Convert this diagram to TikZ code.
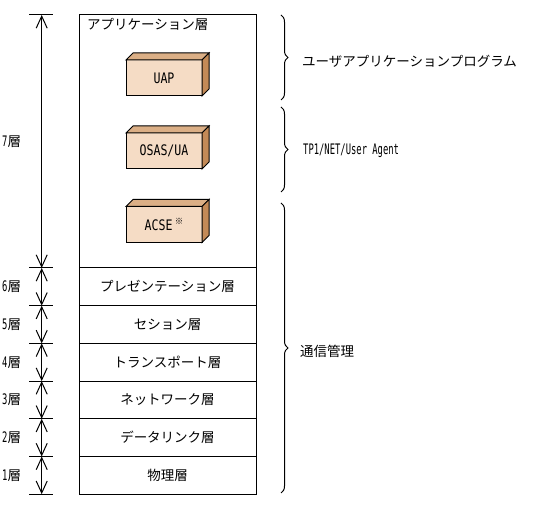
\documentclass[tikz,border=0pt]{standalone}
\usepackage{fontspec}
\setmainfont{Noto Sans CJK JP}
\newfontfamily\hankaku[FakeStretch=0.61]{DejaVu Sans Mono}
\newfontfamily\blockfont[FakeStretch=0.8]{DejaVu Sans Mono}
\usetikzlibrary{arrows.meta,positioning,calc,decorations.pathreplacing}
\definecolor{BoxFront}{HTML}{F5DCC5}
\definecolor{BoxTop}{HTML}{DBAF86}
\definecolor{BoxSide}{HTML}{C38A57}
\tikzset{
  layer/.style={draw,line width=1pt,minimum width=177pt,minimum height=37.7pt,outer sep=0pt,inner sep=0pt,font=\fontsize{13.5}{15}\selectfont},
  applayer/.style={layer,minimum height=253pt},
  block/.style={draw,fill=BoxFront,line width=1pt,minimum width=76pt,minimum height=36pt,outer sep=0pt,font=\blockfont\fontsize{14.5}{16}\selectfont},
  blockface/.style={draw,line width=1pt,line join=miter},
  dimline/.style={{Straight Barb[length=12pt,width=11pt]}-{Straight Barb[length=12pt,width=11pt]},line width=1pt},
  tickline/.style={line width=1pt},
  dimlabel/.style={anchor=west,inner sep=0pt,font=\fontsize{13.5}{15}\selectfont},
  bracedeco/.style={decorate,decoration={brace,amplitude=7pt},line width=1pt},
  bracelabel/.style={anchor=west,inner sep=0pt,font=\fontsize{13.5}{15}\selectfont}
}
\newcommand{\han}[1]{{\hankaku\fontsize{14.5}{16}\selectfont #1}}
\begin{document}
\begin{tikzpicture}[x=1pt,y=1pt]
  \useasboundingbox (0,0) rectangle (542,510);
  % layer stack
  \node[applayer] (app) at (167.5,368.5) {};
  \node[anchor=north west,inner sep=0pt,font=\fontsize{13.5}{15}\selectfont] (applabel) at ([xshift=8pt,yshift=-3pt]app.north west) {アプリケーション層};
  \node[layer,below=0pt of app] (pres) {プレゼンテーション層};
  \node[layer,below=0pt of pres] (sess) {セション層};
  \node[layer,below=0pt of sess] (trans) {トランスポート層};
  \node[layer,below=0pt of trans] (net) {ネットワーク層};
  \node[layer,below=0pt of net] (link) {データリンク層};
  \node[layer,below=0pt of link] (phys) {物理層};
  % 3D blocks
  \node[block] (uap) at (164,432) {UAP};
  \node[block] (osas) at (164,359) {OSAS/UA};
  \node[block] (acse) at (164,285.5) {ACSE\,\raisebox{.35em}{\rmfamily\fontsize{8.5}{9}\selectfont ※}};
  \foreach \b in {uap,osas,acse} {
    \draw[blockface,fill=BoxTop] (\b.north west) -- ++(7,7) -- ($(\b.north east)+(7,7)$) -- (\b.north east) -- cycle;
    \draw[blockface,fill=BoxSide] (\b.north east) -- ++(7,7) -- ($(\b.south east)+(7,7)$) -- (\b.south east) -- cycle;
  }
  % dimension line
  \coordinate (dimx) at (41.7,0);
  \foreach \l in {app,pres,sess,trans,net,link,phys} {
    \draw[dimline] (dimx |- \l.north) -- (dimx |- \l.south);
    \draw[tickline] ([xshift=-12.7pt]dimx |- \l.north) -- ([xshift=11.3pt]dimx |- \l.north);
  }
  \draw[tickline] ([xshift=-12.7pt]dimx |- phys.south) -- ([xshift=11.3pt]dimx |- phys.south);
  \node[dimlabel] (l7) at (2,0 |- app.center) {\han{7}層};
  \node[dimlabel] (l6) at (2,0 |- pres.center) {\han{6}層};
  \node[dimlabel] (l5) at (2,0 |- sess.center) {\han{5}層};
  \node[dimlabel] (l4) at (2,0 |- trans.center) {\han{4}層};
  \node[dimlabel] (l3) at (2,0 |- net.center) {\han{3}層};
  \node[dimlabel] (l2) at (2,0 |- link.center) {\han{2}層};
  \node[dimlabel] (l1) at (2,0 |- phys.center) {\han{1}層};
  % braces
  \coordinate (b1top) at (281,495);
  \coordinate (b1bot) at (281,410);
  \coordinate (b2top) at (281,403);
  \coordinate (b2bot) at (281,318);
  \coordinate (b3top) at (281,307);
  \coordinate (b3bot) at (281,17);
  \draw[bracedeco] (b1top) -- (b1bot);
  \draw[bracedeco] (b2top) -- (b2bot);
  \draw[bracedeco] (b3top) -- (b3bot);
  \node[bracelabel] (uapp) at (302,449) {ユーザアプリケーションプログラム};
  \node[bracelabel] (tp1) at (303,359) {\han{TP1/NET/User Agent}};
  \node[bracelabel] (comm) at (300,159) {通信管理};
\end{tikzpicture}
\end{document}
